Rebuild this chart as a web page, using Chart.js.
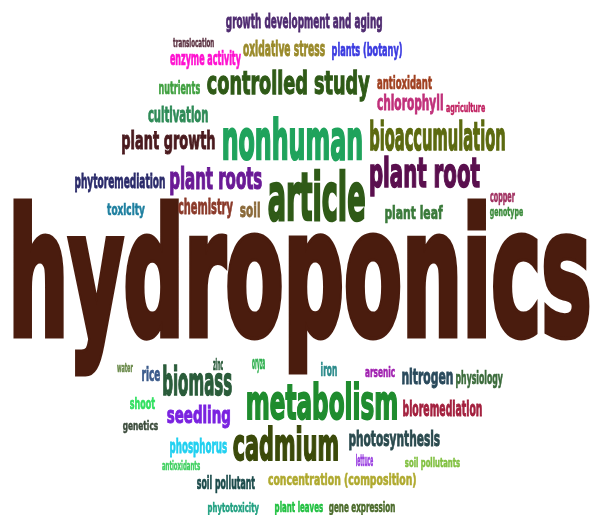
<!DOCTYPE html>
<html>
<head>
<meta charset="utf-8">
<script src="https://cdn.jsdelivr.net/npm/chart.js@4.4.1/dist/chart.umd.min.js"></script>
<style>
  html, body { margin: 0; padding: 0; background: #ffffff; }
  #wrap { position: relative; width: 594px; height: 515px; }
</style>
</head>
<body>
<div id="wrap"><canvas id="cloud"></canvas></div>
<script>
// keywords and their relative weight (frequency) in the cloud
const words = [
  'hydroponics', 'nonhuman', 'controlled study', 'article', 'plant root', 'metabolism',
  'cadmium', 'plant roots', 'bioaccumulation', 'biomass', 'plant growth', 'seedling',
  'chlorophyll', 'photosynthesis', 'nitrogen', 'cultivation', 'growth development and aging',
  'chemistry', 'phytoremediation', 'bioremediation', 'concentration (composition)', 'oxidative stress',
  'plants (botany)', 'enzyme activity', 'plant leaf', 'phosphorus', 'soil pollutant', 'antioxidant',
  'physiology', 'soil', 'toxicity', 'nutrients', 'gene expression', 'plant leaves',
  'phytotoxicity', 'soil pollutants', 'genetics', 'shoot', 'rice', 'arsenic', 'iron', 'oryza',
  'zinc', 'water', 'lettuce', 'antioxidants', 'agriculture', 'translocation', 'copper', 'genotype'
];
const weights = [
  100, 26, 18, 30, 24, 24,
  22, 17, 17, 18, 14, 14,
  13, 12, 13, 11, 10,
  11, 10, 10, 9, 10,
  10, 10, 9, 10, 9, 9,
  8, 9, 9, 8, 8, 8,
  7, 7, 7, 7, 8, 7, 7, 7,
  6, 5, 7, 6, 6, 5, 6, 5
];
const colors = [
  '#4a1c0e', '#1fa35c', '#2f5a17', '#2f5a17', '#5a0f4e', '#1f8c2e',
  '#3b4a0a', '#6a1a96', '#5c6a10', '#2a5c3a', '#4a1a1e', '#7a22e0',
  '#c0307a', '#2a4a4e', '#2a4a5c', '#2e8b57', '#4e2a70',
  '#8b3a2a', '#2a2a6a', '#a3203e', '#b0aa30', '#9a8a2a',
  '#3a3ae0', '#ff10d0', '#3a7a3a', '#20d0f0', '#1a4a4a', '#a04020',
  '#3a6a3a', '#8b6a3a', '#2080a0', '#40a040', '#4a6a2a', '#20c040',
  '#20a080', '#80c040', '#3a4a3a', '#30e060', '#3a5a8a', '#a020b0', '#2a8a8a', '#30b050',
  '#2a5a3a', '#6a8a4a', '#9a40e0', '#40d060', '#c02060', '#5a3040', '#a03060', '#3a8a3a'
];

// layout: ink box of each word [left, top, right, bottom] in chart units
const wordBoxes = [
  [13, 198, 590, 377], [223, 117, 362, 161], [207, 70, 370, 102], [268, 168, 365, 222], [370, 155, 480, 196], [247, 382, 397, 421],
  [233, 425, 338, 462], [170, 165, 262, 196], [370, 120, 505, 152], [163, 365, 232, 397], [122, 129, 215, 155], [167, 405, 230, 429],
  [377, 93, 443, 115], [349, 430, 440, 451], [402, 367, 453, 389], [148, 106, 208, 123], [226, 13, 382, 33],
  [178, 198, 233, 219], [75, 173, 165, 193], [403, 400, 482, 417], [268, 473, 416, 489], [243, 40, 325, 57],
  [332, 42, 402, 60], [170, 50, 241, 69], [385, 205, 443, 223], [170, 438, 227, 457], [197, 475, 255, 493], [377, 75, 432, 90],
  [456, 370, 503, 388], [240, 202, 260, 218], [107, 202, 145, 219], [159, 81, 200, 95], [329, 501, 395, 515], [275, 500, 323, 515],
  [208, 502, 259, 515], [405, 457, 460, 470], [123, 420, 158, 433], [130, 396, 155, 409], [142, 367, 160, 382], [365, 365, 395, 377], [321, 363, 337, 377], [252, 358, 265, 373],
  [213, 357, 223, 370], [117, 363, 133, 372], [356, 453, 373, 466], [162, 460, 200, 470], [446, 103, 485, 115], [173, 37, 214, 47], [490, 193, 515, 206], [490, 208, 523, 219]
];

const fontFamily = "'DejaVu Sans Condensed', 'Liberation Sans Narrow', 'Arial Narrow', sans-serif";
const heavy = 4; // extra stroke (in 100px font units) to get the poster-like weight

// draws each word stretched into its box, using the chart scales
const wordPlugin = {
  id: 'wordPlugin',
  afterDatasetsDraw(chart) {
    const ctx = chart.ctx;
    const xs = chart.scales.x;
    const ys = chart.scales.y;
    chart.getDatasetMeta(0).data.forEach((pt, i) => {
      const b = wordBoxes[i];
      const x0 = xs.getPixelForValue(b[0]);
      const x1 = xs.getPixelForValue(b[2]);
      const y0 = ys.getPixelForValue(b[1]);
      const y1 = ys.getPixelForValue(b[3]);
      ctx.save();
      ctx.font = 'bold 100px ' + fontFamily;
      ctx.textBaseline = 'alphabetic';
      ctx.textAlign = 'left';
      const m = ctx.measureText(words[i]);
      const inkW = m.actualBoundingBoxLeft + m.actualBoundingBoxRight + heavy;
      const inkH = m.actualBoundingBoxAscent + m.actualBoundingBoxDescent + heavy;
      ctx.translate(x0, y0);
      ctx.scale((x1 - x0) / inkW, (y1 - y0) / inkH);
      ctx.fillStyle = colors[i];
      ctx.strokeStyle = colors[i];
      ctx.lineWidth = heavy;
      ctx.lineJoin = 'miter';
      const tx = m.actualBoundingBoxLeft + heavy / 2;
      const ty = m.actualBoundingBoxAscent + heavy / 2;
      ctx.strokeText(words[i], tx, ty);
      ctx.fillText(words[i], tx, ty);
      ctx.restore();
    });
  }
};

new Chart(document.getElementById('cloud'), {
  type: 'scatter',
  data: {
    labels: words,
    datasets: [{
      label: 'keywords',
      data: wordBoxes.map((b, i) => ({ x: (b[0] + b[2]) / 2, y: (b[1] + b[3]) / 2, w: weights[i] })),
      pointRadius: 0,
      pointHoverRadius: 0
    }]
  },
  options: {
    responsive: true,
    maintainAspectRatio: false,
    animation: false,
    layout: { padding: 0 },
    plugins: { legend: { display: false }, tooltip: { enabled: false } },
    scales: {
      x: { type: 'linear', min: 0, max: 594, display: false },
      y: { type: 'linear', min: 0, max: 515, reverse: true, display: false }
    }
  },
  plugins: [wordPlugin]
});
</script>
</body>
</html>
